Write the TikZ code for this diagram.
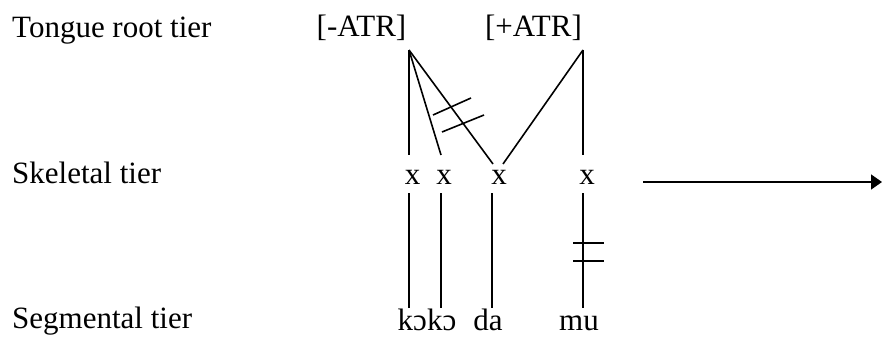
\documentclass[tikz,border=0pt]{standalone}
\usepackage{fontspec}
\setmainfont{Liberation Serif}
\usetikzlibrary{arrows.meta}

\begin{document}
\begin{tikzpicture}[
      x = 1pt, y = -1pt, font = \fontsize{31}{36}\selectfont,
      tier/.style  = {anchor = base west, inner sep = 0pt},
      feat/.style  = {anchor = base, inner sep = 0pt},
      slot/.style  = {anchor = base, inner sep = 0pt},
      seg/.style   = {anchor = base, inner sep = 0pt},
      assoc/.style = {line width = 1.6pt},
      cut/.style   = {line width = 1.6pt},
      arr/.style   = {-{Triangle[length = 11pt, width = 15pt]}, line width = 1.4pt}
    ]
  \useasboundingbox (0,0) rectangle (882,339);

  % ---------- tier names ------------------------------------------------
  \node[tier] (tr) at (12,38)  {Tongue root tier};
  \node[tier] (sk) at (12,183) {Skeletal tier};
  \node[tier] (sg) at (12,328) {Segmental tier};

  % ---------- features --------------------------------------------------
  \node[feat] (neg) at (361.5,37) {[-ATR]};
  \node[feat] (pos) at (533.5,37) {[+ATR]};
  \coordinate (negR) at (409,50);
  \coordinate (posR) at (583,50);

  % ---------- skeletal slots -------------------------------------------
  \node[slot] (x1) at (412.5,184) {x};
  \node[slot] (x2) at (444,184)   {x};
  \node[slot] (x3) at (499,184)   {x};
  \node[slot] (x4) at (587,184)   {x};
  \coordinate (x1t) at (409,155);
  \coordinate (x2t) at (441,155);
  \coordinate (x3l) at (493,164);
  \coordinate (x3r) at (503,164);
  \coordinate (x4t) at (583,155);
  \coordinate (x1b) at (409,193);
  \coordinate (x2b) at (441,193);
  \coordinate (x3b) at (492,193);
  \coordinate (x4b) at (583,193);

  % ---------- segments --------------------------------------------------
  \node[seg] (koko) at (427,330) {kɔkɔ};
  \node[seg] (da)   at (488,330) {da};
  \node[seg] (mu)   at (579,330) {mu};
  \coordinate (k1t) at (409,308);
  \coordinate (k2t) at (441,308);
  \coordinate (dat) at (492,308);
  \coordinate (mut) at (583,308);

  % ---------- association lines ----------------------------------------
  \draw[assoc] (negR) -- (x1t);
  \draw[assoc] (negR) -- (x2t);
  \draw[assoc] (negR) -- (x3l);
  \draw[assoc] (posR) -- (x3r);
  \draw[assoc] (posR) -- (x4t);

  \draw[assoc] (x1b) -- (k1t);
  \draw[assoc] (x2b) -- (k2t);
  \draw[assoc] (x3b) -- (dat);
  \draw[assoc] (x4b) -- (mut);

  % ---------- delinking marks ------------------------------------------
  \draw[cut] (433,115) -- (471,98);
  \draw[cut] (442,132) -- (484,115);
  \foreach \y in {243,261} \draw[cut] (573,\y) -- (604,\y);

  % ---------- arrow -----------------------------------------------------
  \coordinate (arrS) at (643,182);
  \coordinate (arrE) at (882,182);
  \draw[arr] (arrS) -- (arrE);

\end{tikzpicture}
\end{document}
